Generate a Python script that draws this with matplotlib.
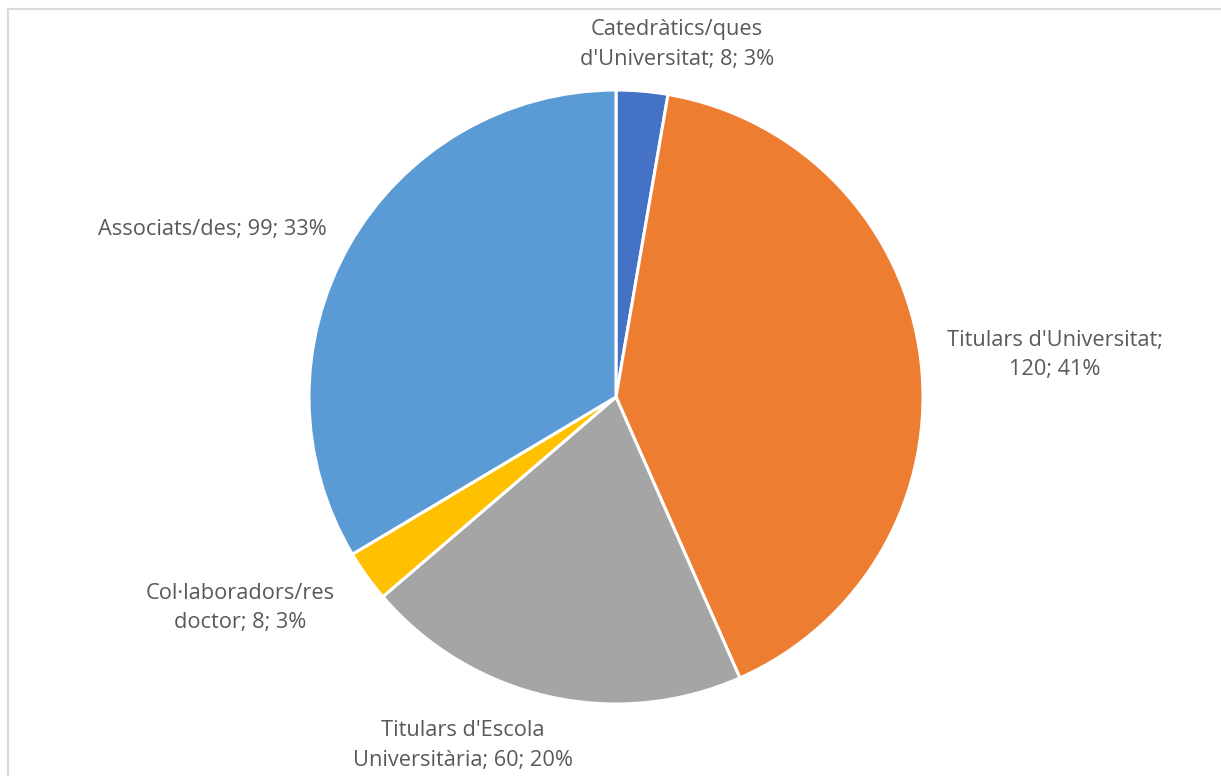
import matplotlib.pyplot as plt
from matplotlib.patches import Rectangle

labels = ["Catedràtics/ques\nd'Universitat; 8; 3%",
          "Titulars d'Universitat;\n120; 41%",
          "Titulars d'Escola\nUniversitària; 60; 20%",
          "Col·laboradors/res\ndoctor; 8; 3%",
          "Associats/des; 99; 33%"]
values = [8, 120, 60, 8, 99]
colors = ["#4472C4", "#ED7D31", "#A5A5A5", "#FFC000", "#5B9BD5"]
# label positions relative to pie centre (radius = 1)
label_pos = [(0.199, 1.147), (1.430, 0.137), (-0.498, -1.134),
             (-1.225, -0.687), (-1.316, 0.547)]

W, H = 1221, 776
cx, cy, R = 616, 397, 307

fig = plt.figure(figsize=(W / 100, H / 100), dpi=100)
ax = fig.add_axes([0, 0, 1, 1])

ax.pie(values, colors=colors, startangle=90, counterclock=False,
       wedgeprops=dict(edgecolor="white", linewidth=2.2))

for lab, (x, y) in zip(labels, label_pos):
    ax.text(x, y, lab, ha="center", va="center", fontsize=15.7,
            family="Open Sans", color="#595959", linespacing=1.55)

ax.set_xlim(-cx / R, (W - cx) / R)
ax.set_ylim(-(H - cy) / R, cy / R)
ax.set_aspect("auto")
ax.axis("off")

# chart frame
fig.patches.append(Rectangle((8 / W, -0.1), 1.2, 1 - 9 / H + 0.1,
                             transform=fig.transFigure, fill=False,
                             edgecolor="#D9D9D9", linewidth=1.5))

fig.savefig("out.png", dpi=100)
